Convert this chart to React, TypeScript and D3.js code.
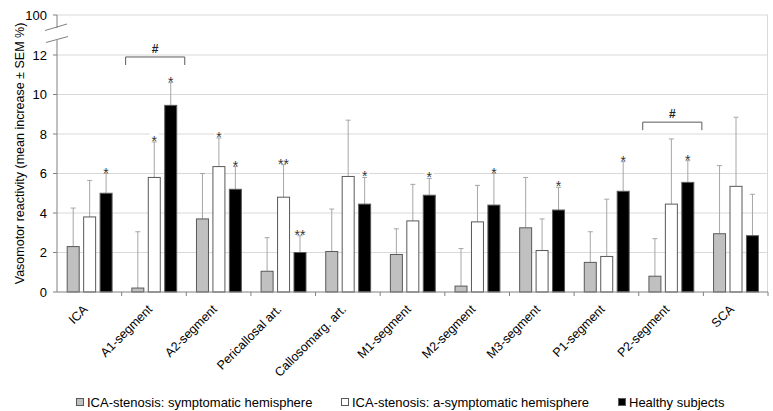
import * as d3 from "d3";

const categories = [
  "ICA",
  "A1-segment",
  "A2-segment",
  "Pericallosal art.",
  "Callosomarg. art.",
  "M1-segment",
  "M2-segment",
  "M3-segment",
  "P1-segment",
  "P2-segment",
  "SCA",
];

const seriesNames = [
  "ICA-stenosis: symptomatic hemisphere",
  "ICA-stenosis: a-symptomatic hemisphere",
  "Healthy subjects",
];

const symptomatic = [2.3, 0.2, 3.7, 1.05, 2.05, 1.9, 0.3, 3.25, 1.5, 0.8, 2.95];
const symptomaticSem = [1.95, 2.85, 2.3, 1.7, 2.15, 1.3, 1.9, 2.55, 1.55, 1.9, 3.45];
const symptomaticMarks = ["", "", "", "", "", "", "", "", "", "", ""];

const asymptomatic = [3.8, 5.8, 6.35, 4.8, 5.85, 3.6, 3.55, 2.1, 1.8, 4.45, 5.35];
const asymptomaticSem = [1.85, 1.8, 1.45, 1.65, 2.85, 1.85, 1.85, 1.6, 2.9, 3.3, 3.5];
const asymptomaticMarks = ["", "*", "*", "**", "", "", "", "", "", "", ""];

const healthy = [5.0, 9.45, 5.2, 2.0, 4.45, 4.9, 4.4, 4.15, 5.1, 5.55, 2.85];
const healthySem = [1.0, 1.15, 1.15, 0.85, 1.35, 0.85, 1.6, 1.15, 1.5, 1.1, 2.1];
const healthyMarks = ["*", "*", "*", "**", "*", "*", "*", "*", "*", "*", ""];

// "#" brackets spanning a whole category group, at a y value
const bracketCategories = ["A1-segment", "P2-segment"];
const bracketLevels = [11.9, 8.6];

const yTicks = [0, 2, 4, 6, 8, 10, 12, 100];

const W = 773;
const H = 411;
const margin = { top: 15, right: 5, bottom: 119, left: 57 };
const FONT = "Arial, 'Liberation Sans', sans-serif";

const fills = ["#c0c0c0", "#ffffff", "#000000"];

export default function App() {
  const x0 = margin.left;
  const x1 = W - margin.right;
  const yBottom = H - margin.bottom;

  const x = d3.scaleBand<string>().domain(categories).range([x0, x1]).padding(0);
  const bw = x.bandwidth();
  const inner = d3
    .scaleBand<number>()
    .domain([0, 1, 2])
    .range([bw * 0.15, bw * 0.86])
    .paddingInner(0.21);

  // broken axis: 0..12 linear, then squeezed up to 100
  const y = d3.scaleLinear().domain([0, 12, 100]).range([yBottom, 55, margin.top]);

  const series = [
    { values: symptomatic, sem: symptomaticSem, marks: symptomaticMarks },
    { values: asymptomatic, sem: asymptomaticSem, marks: asymptomaticMarks },
    { values: healthy, sem: healthySem, marks: healthyMarks },
  ];

  const legendX = [76, 341, 618];
  const legendY = 402;

  return (
    <div style={{ position: "absolute", left: 0, top: 0 }}>
      <svg width={W} height={H} style={{ display: "block", background: "#fff" }} fontFamily={FONT}>
        {/* gridlines */}
        {yTicks.filter((t) => t !== 0).map((t) => (
          <line key={t} x1={x0} x2={x1} y1={y(t)} y2={y(t)} stroke="#d9d9d9" strokeWidth={1} />
        ))}
        <line x1={x1 - 0.5} x2={x1 - 0.5} y1={margin.top} y2={yBottom} stroke="#d9d9d9" />

        {/* bars and error bars */}
        {series.map((s, si) =>
          categories.map((c, ci) => {
            const bx = (x(c) ?? 0) + (inner(si) ?? 0);
            const w = inner.bandwidth();
            const top = y(s.values[ci]);
            const eTop = y(s.values[ci] + s.sem[ci]);
            const cx = bx + w / 2;
            return (
              <g key={`${si}-${ci}`}>
                <line x1={cx} x2={cx} y1={top} y2={eTop} stroke="#a6a6a6" />
                <line x1={cx - 2.5} x2={cx + 2.5} y1={eTop} y2={eTop} stroke="#a6a6a6" />
                <rect
                  x={bx + 0.5}
                  y={top}
                  width={w - 1}
                  height={yBottom - top}
                  fill={fills[si]}
                  stroke="#595959"
                  strokeWidth={1}
                />
              </g>
            );
          })
        )}

        {/* significance stars */}
        {series.map((s, si) =>
          categories.map((c, ci) => {
            const m = s.marks[ci];
            if (!m) return null;
            const cx = (x(c) ?? 0) + (inner(si) ?? 0) + inner.bandwidth() / 2;
            const eTop = y(s.values[ci] + s.sem[ci]);
            const tw = m.length * 7 + 2;
            return (
              <g key={`m-${si}-${ci}`}>
                <rect x={cx - tw / 2} y={eTop - 12} width={tw} height={9} fill="#fff" />
                <text x={cx} y={eTop + 4} textAnchor="middle" fontSize={14} fill="#333">
                  {m}
                </text>
              </g>
            );
          })
        )}

        {/* brackets */}
        {bracketCategories.map((c, i) => {
          const bx0 = (x(c) ?? 0) + 4;
          const bx1 = (x(c) ?? 0) + bw - 1.5;
          const by = y(bracketLevels[i]);
          return (
            <g key={`b-${c}`}>
              <path
                d={`M${bx0},${by + 8}V${by}H${bx1}V${by + 8}`}
                fill="none"
                stroke="#595959"
                strokeWidth={1}
              />
              <rect x={(bx0 + bx1) / 2 - 5} y={by - 13} width={10} height={10} fill="#fff" />
              <text
                x={(bx0 + bx1) / 2}
                y={by - 4}
                textAnchor="middle"
                fontSize={12}
                fontWeight="bold"
                fill="#222"
              >
                #
              </text>
            </g>
          );
        })}

        {/* y axis with break */}
        <line x1={x0} x2={x0} y1={margin.top} y2={28} stroke="#808080" />
        <line x1={x0} x2={x0} y1={40} y2={yBottom} stroke="#808080" />
        <line x1={45} y1={30.5} x2={67} y2={24} stroke="#808080" />
        <line x1={46} y1={42.5} x2={68} y2={36.5} stroke="#808080" />
        {yTicks.map((t) => (
          <g key={`yt-${t}`}>
            <line x1={x0 - 4} x2={x0} y1={y(t)} y2={y(t)} stroke="#808080" />
            <text x={x0 - 10} y={y(t)} dy="0.35em" textAnchor="end" fontSize={13} fill="#000">
              {t}
            </text>
          </g>
        ))}
        <g transform={`translate(20,${(margin.top + yBottom) / 2})`}>
          <text transform="rotate(-90)" textAnchor="middle" dy="0.35em" fontSize={12.5} fill="#000">
            Vasomotor reactivity (mean increase ± SEM %)
          </text>
        </g>

        {/* x axis */}
        <line x1={x0} x2={x1} y1={yBottom} y2={yBottom} stroke="#808080" />
        {categories.map((c, i) => (
          <line
            key={`xt-${i}`}
            x1={(x(c) ?? 0) + bw}
            x2={(x(c) ?? 0) + bw}
            y1={yBottom}
            y2={yBottom + 4}
            stroke="#808080"
          />
        ))}
        {categories.map((c) => (
          <g key={`xl-${c}`} transform={`translate(${(x(c) ?? 0) + bw / 2 - 4},${yBottom + 15})`}>
            <text transform="rotate(-45)" textAnchor="end" dy="0.35em" fontSize={12.5} fill="#000">
              {c}
            </text>
          </g>
        ))}

        {/* legend */}
        {seriesNames.map((n, i) => (
          <g key={`lg-${i}`}>
            <rect
              x={legendX[i] + 0.5}
              y={legendY - 3.5}
              width={7}
              height={7}
              fill={fills[i]}
              stroke="#595959"
            />
            <text x={legendX[i] + 11} y={legendY} dy="0.35em" fontSize={13} fill="#000">
              {n}
            </text>
          </g>
        ))}
      </svg>
    </div>
  );
}
